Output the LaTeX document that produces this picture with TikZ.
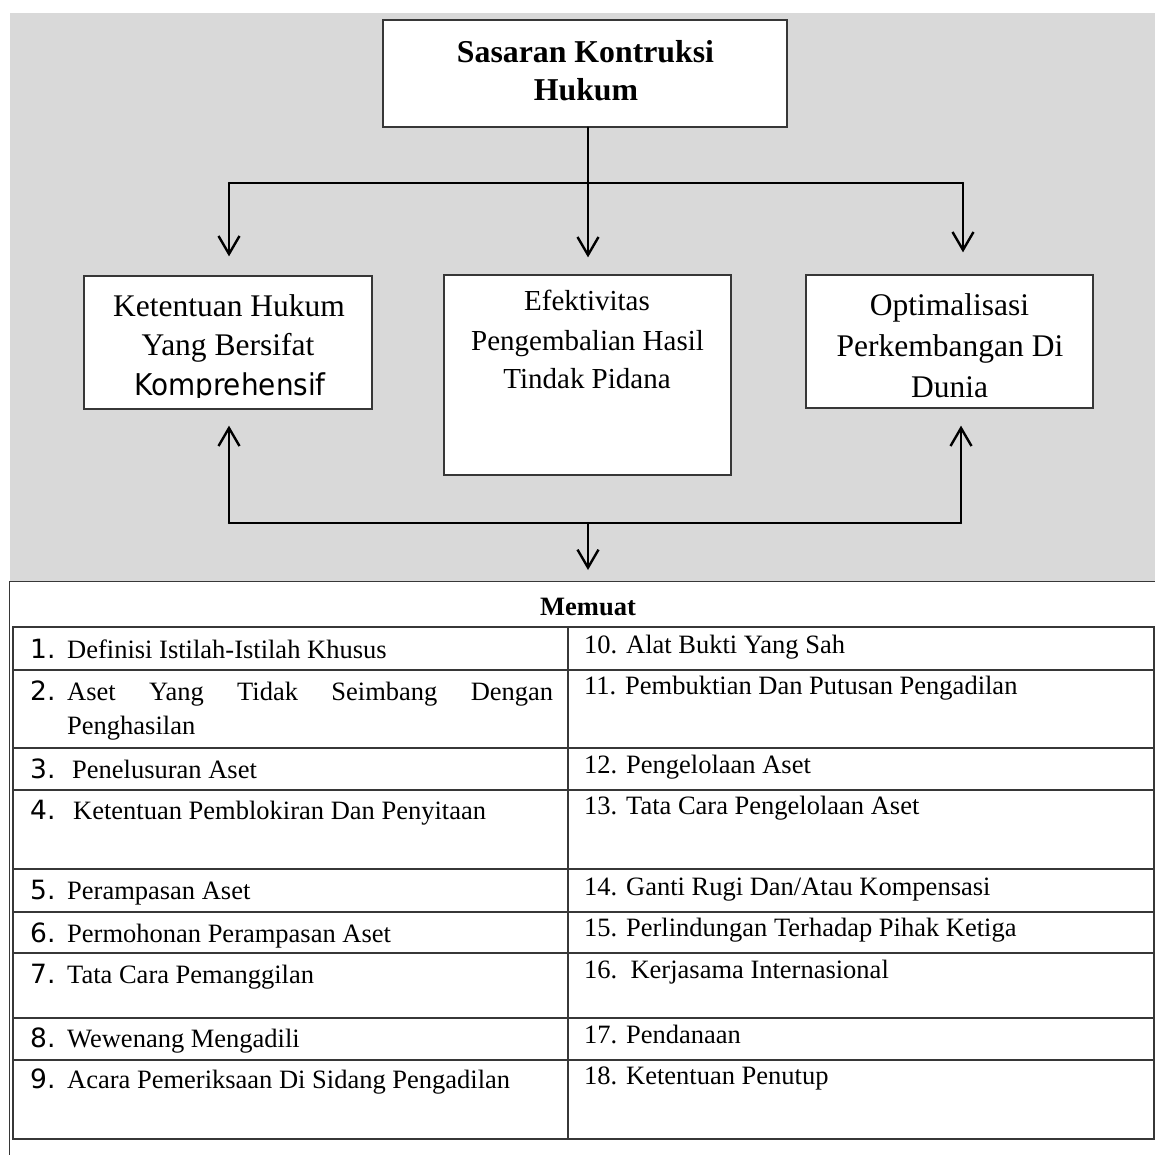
\documentclass[tikz,border=0pt]{standalone}
\usepackage{fontspec}
\setmainfont{Liberation Serif}
\newfontfamily\tah{DejaVu Sans}
\usetikzlibrary{arrows.meta}
\definecolor{bg}{RGB}{217,217,217}
\definecolor{ln}{RGB}{55,55,55}
\newcommand{\num}[1]{\makebox[37pt][l]{\tah #1}}
\begin{document}
\begin{tikzpicture}[x=1pt,y=-1pt,
  box/.style={draw=ln, line width=1.3pt, fill=white, inner sep=0pt},
  conn/.style={line width=2.4pt, line cap=round},
  arr/.style={conn, -{Straight Barb[length=18pt,width=21pt]}},
  txt/.style={inner sep=0pt, anchor=base},
  big/.style={txt, font=\fontsize{31.5}{39}\selectfont},
  mid/.style={txt, font=\fontsize{29}{36}\selectfont},
  cell/.style={inner sep=0pt, anchor=base west, font=\fontsize{26.5}{32}\selectfont},
  gridline/.style={draw=ln, line width=1.5pt}
]
\useasboundingbox (0,0) rectangle (1155,1154);
\fill[bg] (10,13) rectangle (1170,590);

% boxes
\node[box, minimum width=404pt, minimum height=107pt] (top) at (585,73.5) {};
\node[box, minimum width=288pt, minimum height=133pt] (lb) at (228,342.5) {};
\node[box, minimum width=287pt, minimum height=200pt] (mb) at (587.5,375) {};
\node[box, minimum width=287pt, minimum height=133pt] (rb) at (949.5,341.5) {};

% top text
\node[txt, font=\fontsize{31.8}{38}\bfseries] (t1) at (585.5,62) {Sasaran Kontruksi};
\node[txt, font=\fontsize{31.8}{38}\bfseries] (t2) at (586,100) {Hukum};

% left box text
\begin{scope}
\clip (84,276) rectangle (372,397);
\node[big] (l1) at (229,316) {Ketentuan Hukum};
\node[big] (l2) at (228,355) {Yang Bersifat};
\node[txt] (l3) at (230,395) {\scalebox{0.93}[1]{\tah\fontsize{30}{36}\selectfont Komprehensif}};
\end{scope}

% middle box text
\node[mid] (m1) at (587,310) {Efektivitas};
\node[mid] (m2) at (587.5,350) {Pengembalian Hasil};
\node[mid] (m3) at (587,388) {Tindak Pidana};

% right box text
\begin{scope}
\clip (806,275) rectangle (1093,398);
\node[big] (r1) at (949.5,315) {Optimalisasi};
\node[big] (r2) at (950,356) {Perkembangan Di};
\node[big] (r3) at (949.5,397) {Dunia};
\end{scope}

% connectors top
\coordinate (jt) at (588,183);
\coordinate (jl) at (229,183);
\coordinate (jr) at (963,183);
\draw[conn] (top.south -| jt) -- (jt);
\draw[conn] (jl) -- (jr);
\draw[arr, shorten >=19pt] (jl) -- (jl |- lb.north);
\draw[arr, shorten >=17pt] (jt) -- (jt |- mb.north);
\draw[arr, shorten >=22pt] (jr) -- (jr |- rb.north);

% frame
\node[box, anchor=north west, minimum width=1170pt, minimum height=600pt] (frame) at (9,581) {};

% connectors bottom
\coordinate (bl) at (229,523);
\coordinate (bm) at (588,523);
\coordinate (br) at (961,523);
\draw[conn] (bl) -- (br);
\draw[arr, shorten >=16pt] (bl) -- (bl |- lb.south);
\draw[arr, shorten >=17pt] (br) -- (br |- rb.south);
\draw[arr, shorten >=11pt] (bm) -- (bm |- frame.north);

% table
\node[txt, font=\fontsize{26.5}{32}\bfseries] (memuat) at (588,615) {Memuat};
\draw[gridline] (13,627) rectangle (1154,1139);
\draw[gridline] (568,627) -- (568,1139);
\foreach \yy in {670,748,790,869,912,953,1018,1060}
  \draw[gridline] (13,\yy) -- (1154,\yy);

\node[cell] (c1) at (30,658) {\num{1.}Definisi Istilah-Istilah Khusus};
\node[cell] (c2) at (30,700) {\num{2.}\makebox[486pt][s]{Aset Yang Tidak Seimbang Dengan}};
\node[cell] (c2b) at (67,734) {Penghasilan};
\node[cell] (c3) at (30,778) {\num{3.}\hspace{5pt}Penelusuran Aset};
\node[cell] (c4) at (30,819) {\num{4.}\hspace{6pt}Ketentuan Pemblokiran Dan Penyitaan};
\node[cell] (c5) at (30,899) {\num{5.}Perampasan Aset};
\node[cell] (c6) at (30,942) {\num{6.}Permohonan Perampasan Aset};
\node[cell] (c7) at (30,983) {\num{7.}Tata Cara Pemanggilan};
\node[cell] (c8) at (30,1047) {\num{8.}Wewenang Mengadili};
\node[cell] (c9) at (30,1088) {\num{9.}Acara Pemeriksaan Di Sidang Pengadilan};

\node[cell] (c10) at (584,653) {10. Alat Bukti Yang Sah};
\node[cell] (c11) at (584,694) {11. Pembuktian Dan Putusan Pengadilan};
\node[cell] (c12) at (584,773) {12. Pengelolaan Aset};
\node[cell] (c13) at (584,814) {13. Tata Cara Pengelolaan Aset};
\node[cell] (c14) at (584,895) {14. Ganti Rugi Dan/Atau Kompensasi};
\node[cell] (c15) at (584,936) {15. Perlindungan Terhadap Pihak Ketiga};
\node[cell] (c16) at (584,978) {16.\ \ Kerjasama Internasional};
\node[cell] (c17) at (584,1043) {17. Pendanaan};
\node[cell] (c18) at (584,1084) {18. Ketentuan Penutup};
\end{tikzpicture}
\end{document}
